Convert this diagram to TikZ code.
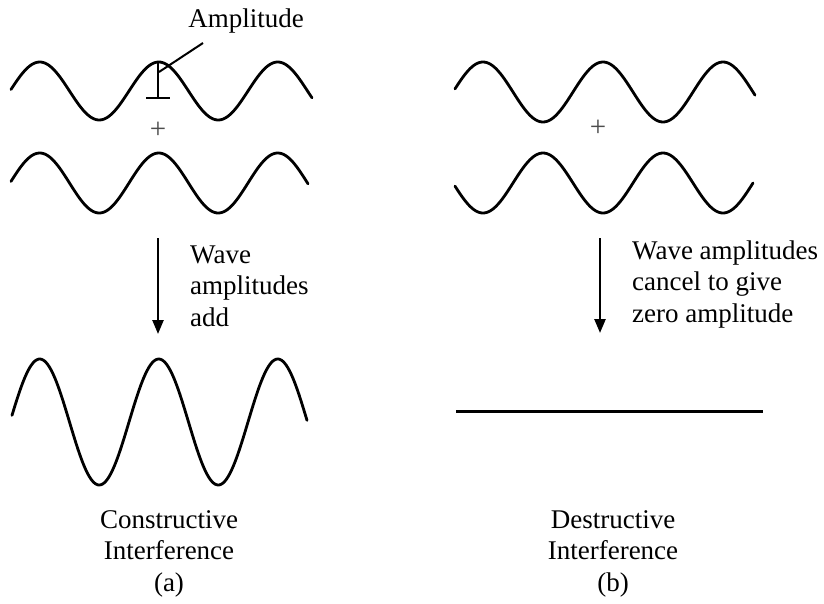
\documentclass[tikz,border=0pt]{standalone}
\usepackage{fontspec}
\setmainfont{Liberation Serif}
\usetikzlibrary{arrows.meta}
\begin{document}
\begin{tikzpicture}[x=1pt,y=-1pt,
  wave/.style={line width=2.8pt, line cap=round},
  lbl/.style={font=\fontsize{27}{31.5}\selectfont, inner sep=0pt},
  plus/.style={font=\fontsize{29}{29}\selectfont, text=black!70, inner sep=0pt},
  flow/.style={line width=2.5pt, -{Triangle[length=14pt,width=11pt]}},
  marker/.style={line width=2.5pt}]
\useasboundingbox (0,0) rectangle (824,603);

% ---- (a) constructive ----
\draw[wave] plot[domain=11:312, samples=160, smooth] (\x, {91 - 29*sin(3.02521*(\x-10))});
\node[plus] (plusA) at (158,130) {+};
\draw[wave] plot[domain=11:308, samples=160, smooth] (\x, {183 - 30*sin(3.02521*(\x-10))});

% amplitude marker
\coordinate (ampTop) at (158,63);
\coordinate (ampBot) at (158,98);
\coordinate (tickL) at (146,98);
\coordinate (tickR) at (170,98);
\coordinate (leadA) at (159,72);
\coordinate (leadB) at (203,43);
\draw[marker] (ampTop) -- (ampBot);
\draw[marker] (tickL) -- (tickR);
\draw[line width=2pt] (leadA) -- (leadB);
\node[lbl, anchor=base] (amp) at (246,27) {Amplitude};

\coordinate (arrA1) at (158,238);
\coordinate (arrA2) at (158,334);
\draw[flow] (arrA1) -- (arrA2);
% base anchor = baseline of the last line
\node[lbl, anchor=base west, align=left] (txtA) at (190,326) {Wave\\amplitudes\\add};

\draw[wave] plot[domain=12:307, samples=200, smooth] (\x, {422 - 63*sin(3.02521*(\x-10))});

\node[lbl, anchor=base, align=center] (capA) at (169,591) {Constructive\\Interference\\(a)};

% ---- (b) destructive ----
\draw[wave] plot[domain=455:755, samples=160, smooth] (\x, {92 - 30*sin(3*(\x-453))});
\node[plus] (plusB) at (598,128) {+};
\draw[wave] plot[domain=455:753, samples=160, smooth] (\x, {183 + 30*sin(3*(\x-453))});

\coordinate (arrB1) at (600,238);
\coordinate (arrB2) at (600,333);
\draw[flow] (arrB1) -- (arrB2);
\node[lbl, anchor=base west, align=left] (txtB) at (632,322) {Wave amplitudes\\cancel to give\\zero amplitude};

\coordinate (flatL) at (456,411);
\coordinate (flatR) at (763,411);
\draw[line width=3pt] (flatL) -- (flatR);

\node[lbl, anchor=base, align=center] (capB) at (613,591) {Destructive\\Interference\\(b)};
\end{tikzpicture}
\end{document}
